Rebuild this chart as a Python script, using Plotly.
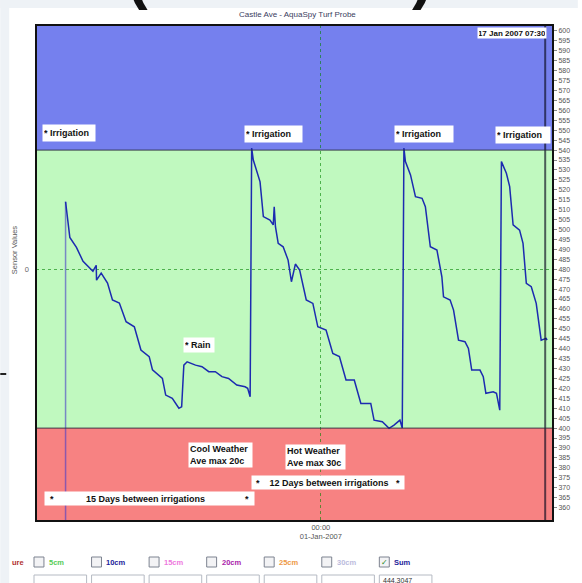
import pandas as pd
import plotly.graph_objects as go

# ---------------- data ----------------
title_text = "Castle Ave - AquaSpy Turf Probe"
base_date = "2007-01-01 00:00"
# days relative to 01-Jan-2007 00:00
sum_days = [-18.56, -18.25, -17.77, -17.29, -16.57, -16.33, -16.31, -15.97, -15.51, -15.15,
            -14.65, -14.16, -13.56, -13.08, -12.48, -12.24, -11.52, -11.28, -10.80, -10.32,
            -10.12, -9.96, -9.72, -9.11, -8.64, -8.15, -7.67, -7.19, -6.71, -6.11,
            -5.51, -5.32, -5.14, -5.03, -4.91, -4.42, -4.18, -3.70, -3.46, -3.39,
            -3.30, -3.10, -2.74, -2.38, -2.14, -1.85, -1.54, -1.06, -0.58, -0.22,
            0.38, 0.87, 1.35, 1.83, 2.43, 2.91, 3.63, 3.87, 4.47, 4.96,
            5.32, 5.75, 5.92, 6.04, 6.15, 6.52, 6.88, 7.36, 7.60, 7.96,
            8.44, 8.80, 8.92, 9.40, 9.65, 10.01, 10.48, 10.73, 10.97, 11.57,
            11.81, 12.00, 12.53, 12.77, 13.01, 13.13, 13.49, 13.73, 13.98, 14.45,
            14.70, 14.94, 15.30, 15.66, 16.02, 16.38, 16.45]
sum_values = [514, 496, 491, 484, 479, 482, 474.5, 478, 473, 464.5,
              463, 453.6, 451, 439.3, 436, 429.3, 425, 416.6, 415, 410,
              410.7, 431.7, 433.4, 431.7, 430.9, 428.4, 428.4, 425.9, 425, 421.7,
              420.8, 420, 415.8, 541, 535, 524, 506.5, 504.8, 502.3, 511.5,
              501.4, 493, 491.3, 484.6, 473.7, 482.6, 479.6, 464.5, 462.8, 451,
              449.4, 437.6, 436, 424.2, 424.2, 412.4, 412.4, 404, 403.2, 399.9,
              401.5, 404, 400, 541, 534.2, 527.5, 516.5, 515.7, 511.5, 491.3,
              489.7, 476.2, 466.1, 464.5, 459.4, 444.3, 443.5, 440.1, 429.2, 429.2,
              425.9, 417.5, 418.3, 417.5, 409, 534.2, 528.3, 521.6, 502.3, 499.7,
              493, 472.9, 471.2, 462.8, 444.3, 445.2, 444.3]
cursor_day = 16.3125            # 17 Jan 2007 07:30
cursor_label = "17 Jan 2007 07:30"
zone_limits = [400, 540]        # refill point / full point
right_tick_vals = list(range(360, 601, 5))
left_tick_vals = [480]
left_tick_text = ["0"]
x_tick_days = [0]
x_tick_text = ["00:00<br>01-Jan-2007"]
legend_labels = ["5cm", "10cm", "15cm", "20cm", "25cm", "30cm", "Sum"]
legend_colors = ["#55cc55", "#22229a", "#ee77dd", "#aa22aa", "#ee9944", "#bbbbdd", "#22229a"]
legend_checked = [False, False, False, False, False, False, True]
legend_readouts = ["", "", "", "", "", "", "444.3047"]
notes_irrigation = ["* Irrigation", "* Irrigation", "* Irrigation", "* Irrigation"]

# ---------------- helpers ----------------
base = pd.Timestamp(base_date)


def to_time(days):
    return (base + pd.to_timedelta(pd.Series(days, dtype=float), unit="D")).dt.strftime("%Y-%m-%d %H:%M:%S").tolist()


times = to_time(sum_days)
cursor_t = to_time([cursor_day])[0]
x_range = to_time([-20.71, 16.88])
y_range = [353.2, 603]

W, H = 582, 583
ML, MR, MT, MB = 36, 25, 25, 62
PW, PH = W - ML - MR, H - MT - MB


def fx(px):
    return (px - ML) / PW


def fy(py):
    return (H - MB - py) / PH


FONT = "Liberation Sans, Arial, sans-serif"
NB = "\u00a0"

fig = go.Figure()

# irrigation start marker (first reading)
fig.add_trace(go.Scatter(x=[times[0], times[0]], y=[y_range[0], sum_values[0]], mode="lines",
                         line=dict(color="rgba(70,60,200,0.6)", width=1.5), hoverinfo="skip",
                         showlegend=False, yaxis="y"))
# sum series
fig.add_trace(go.Scatter(x=times, y=sum_values, mode="lines",
                         line=dict(color="#1c2bb0", width=1.5), name="Sum", showlegend=False,
                         yaxis="y"))
# current-time cursor
fig.add_trace(go.Scatter(x=[cursor_t, cursor_t], y=y_range, mode="lines",
                         line=dict(color="rgba(10,10,30,0.65)", width=2), hoverinfo="skip",
                         showlegend=False, yaxis="y2"))

shapes = []
# zones
shapes.append(dict(type="rect", xref="paper", yref="y", x0=0, x1=1, y0=zone_limits[1], y1=y_range[1],
                   fillcolor="#7580ee", line=dict(width=0), layer="below"))
shapes.append(dict(type="rect", xref="paper", yref="y", x0=0, x1=1, y0=zone_limits[0], y1=zone_limits[1],
                   fillcolor="#c0f9bf", line=dict(width=0), layer="below"))
shapes.append(dict(type="rect", xref="paper", yref="y", x0=0, x1=1, y0=y_range[0], y1=zone_limits[0],
                   fillcolor="#f78282", line=dict(width=0), layer="below"))
# zone boundaries
for zl in zone_limits:
    shapes.append(dict(type="line", xref="paper", yref="y", x0=0, x1=1, y0=zl, y1=zl,
                       line=dict(color="rgba(40,40,60,0.7)", width=1.2), layer="above"))
# frame
shapes.append(dict(type="rect", xref="paper", yref="paper", x0=0, x1=1, y0=0, y1=1,
                   line=dict(color="#111", width=2), layer="above"))
# page strips
shapes.append(dict(type="rect", xref="paper", yref="paper", x0=fx(0), x1=fx(9), y0=fy(H), y1=fy(0),
                   fillcolor="#eef2f6", line=dict(width=0), layer="below"))
shapes.append(dict(type="rect", xref="paper", yref="paper", x0=fx(0), x1=fx(W), y0=fy(8), y1=fy(0),
                   fillcolor="#eef2f6", line=dict(width=0), layer="below"))
shapes.append(dict(type="line", xref="paper", yref="paper", x0=fx(0), x1=fx(6), y0=fy(374), y1=fy(374),
                   line=dict(color="#222", width=2)))

annotations = []
# title
annotations.append(dict(text=title_text, xref="paper", yref="paper", x=fx(300), y=fy(15),
                        showarrow=False, font=dict(family=FONT, size=8, color="#3a4060"),
                        xanchor="center", yanchor="middle"))
# y axis title
annotations.append(dict(text="Sensor Values", xref="paper", yref="paper", x=fx(14), y=fy(250),
                        showarrow=False, textangle=-90, font=dict(family=FONT, size=7.5, color="#555"),
                        xanchor="center", yanchor="middle"))


def box(text, cx, cy, w, h, size=9, align="left"):
    annotations.append(dict(text=text, xref="paper", yref="paper", x=fx(cx), y=fy(cy),
                            showarrow=False, bgcolor="white", borderpad=1, width=w, height=h,
                            align=align, valign="middle",
                            font=dict(family=FONT, size=size, color="#111"),
                            xanchor="center", yanchor="middle"))


irr_pos = [(69, 133), (275.5, 133.5), (427, 134), (527, 134.5)]
irr_w = [50, 55, 56, 52]
for t, (cx, cy), w in zip(notes_irrigation, irr_pos, irr_w):
    box("<b>" + t + "</b>", cx, cy, w, 14)
box("<b>* Rain</b>", 200, 345, 28, 12)
box("<b>Cool Weather<br>Ave max 20c</b>", 221.5, 455, 61, 22)
box("<b>Hot Weather<br>Ave max 30c</b>", 317.5, 456.5, 57, 22)
box("<b>*" + NB * 4 + "12 Days between irrigations" + NB * 3 + "*</b>", 330, 482.5, 150, 11, align="center")
box("<b>*" + NB * 13 + "15 Days between irrigations" + NB * 16 + "*</b>", 150.5, 498, 207, 11, align="center")
box("<b>" + cursor_label + "</b>", 516, 33, 66, 8, size=8, align="center")

# cropped parentheses at the very top of the page
annotations.append(dict(text="<b>(</b>", xref="paper", yref="paper", x=fx(138), y=fy(12),
                        showarrow=False, font=dict(family=FONT, size=62, color="#111"),
                        xanchor="center", yanchor="bottom"))
annotations.append(dict(text="<b>)</b>", xref="paper", yref="paper", x=fx(425), y=fy(12),
                        showarrow=False, font=dict(family=FONT, size=62, color="#111"),
                        xanchor="center", yanchor="bottom"))

# bottom probe selector row
annotations.append(dict(text="<b>ure</b>", xref="paper", yref="paper", x=fx(10), y=fy(562),
                        showarrow=False, font=dict(family=FONT, size=7.5, color="#b03030"),
                        xanchor="left", yanchor="middle"))
for i, (lab, col, chk, val) in enumerate(zip(legend_labels, legend_colors, legend_checked, legend_readouts)):
    left = 34 + i * 58
    shapes.append(dict(type="rect", xref="paper", yref="paper", x0=fx(left), x1=fx(left + 10),
                       y0=fy(567), y1=fy(557), fillcolor="#f3f3f5", line=dict(color="#7d8390", width=1)))
    shapes.append(dict(type="rect", xref="paper", yref="paper", x0=fx(left), x1=fx(left + 53),
                       y0=fy(592), y1=fy(575), fillcolor="white", line=dict(color="#b5bac3", width=1)))
    annotations.append(dict(text="<b>" + lab + "</b>", xref="paper", yref="paper", x=fx(left + 13), y=fy(562),
                            showarrow=False, font=dict(family=FONT, size=7.5, color=col),
                            xanchor="left", yanchor="middle"))
    if chk:
        annotations.append(dict(text="✓", xref="paper", yref="paper", x=fx(left + 5), y=fy(562),
                                showarrow=False, font=dict(family="DejaVu Sans", size=8, color="#2a8a2a"),
                                xanchor="center", yanchor="middle"))
    if val:
        annotations.append(dict(text=val, xref="paper", yref="paper", x=fx(left + 2), y=fy(580),
                                showarrow=False, font=dict(family=FONT, size=7, color="#333"),
                                xanchor="left", yanchor="middle"))

fig.update_layout(
    width=W, height=H,
    margin=dict(l=ML, r=MR, t=MT, b=MB, pad=0),
    paper_bgcolor="white", plot_bgcolor="white",
    showlegend=False,
    xaxis=dict(type="date", range=x_range, tickvals=to_time(x_tick_days), ticktext=x_tick_text,
               showgrid=True, gridcolor="rgba(0,130,0,0.6)", griddash="dot", gridwidth=1,
               zeroline=False, showline=False, ticks="",
               tickfont=dict(family=FONT, size=7.5, color="#555")),
    yaxis=dict(range=y_range, tickvals=left_tick_vals, ticktext=left_tick_text,
               showgrid=True, gridcolor="rgba(0,130,0,0.6)", griddash="dot", gridwidth=1,
               zeroline=False, showline=False, ticks="", side="left", ticklabelstandoff=6,
               tickfont=dict(family=FONT, size=7.5, color="#666")),
    yaxis2=dict(range=y_range, overlaying="y", side="right", tickvals=right_tick_vals,
                showgrid=False, zeroline=False, showline=False, ticks="outside", ticklen=3,
                tickcolor="#888", tickfont=dict(family=FONT, size=7, color="#555")),
    shapes=shapes,
    annotations=annotations,
)

fig.write_html("out.html", config={"displayModeBar": False},
               post_script="document.body.style.margin='0';document.body.style.overflow='hidden';")
